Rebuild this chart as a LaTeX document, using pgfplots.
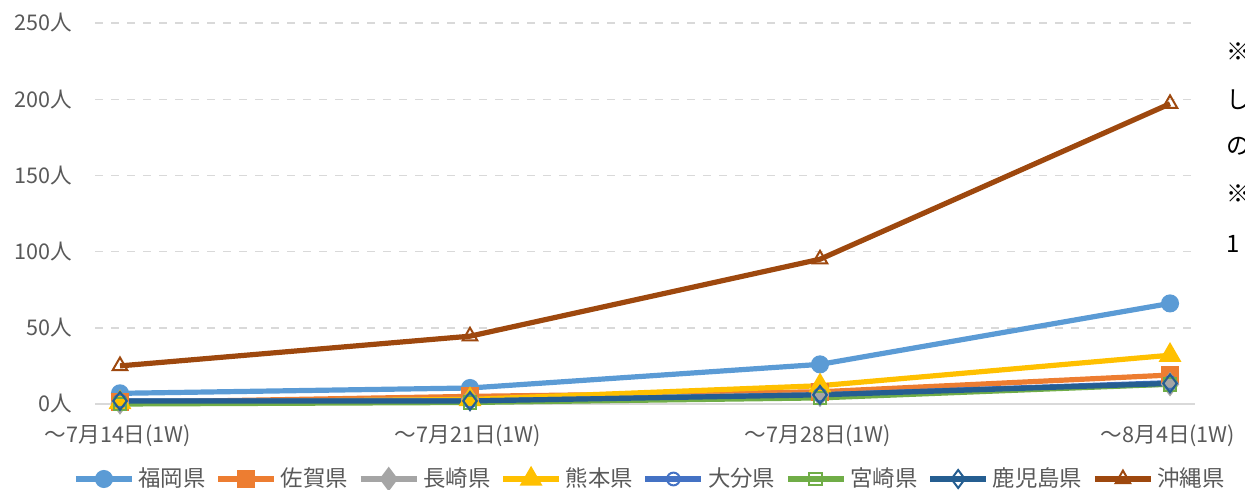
\documentclass[border=0pt]{standalone}
\usepackage{fontspec}
\setmainfont{Noto Sans CJK JP}
\usepackage{pgfplots}
\pgfplotsset{compat=1.18}
\definecolor{cFukuoka}{HTML}{5B9BD5}
\definecolor{cSaga}{HTML}{ED7D31}
\definecolor{cNagasaki}{HTML}{A5A5A5}
\definecolor{cKumamoto}{HTML}{FFC000}
\definecolor{cOita}{HTML}{4472C4}
\definecolor{cMiyazaki}{HTML}{70AD47}
\definecolor{cKagoshima}{HTML}{255E91}
\definecolor{cOkinawa}{HTML}{9E480E}
\definecolor{txt}{HTML}{595959}
\definecolor{gridc}{HTML}{D9D9D9}
\begin{document}
\begin{tikzpicture}
\useasboundingbox (0,0) rectangle (622.5bp,245bp);
\begin{axis}[
  at={(47.5bp,43bp)}, anchor=south west,
  scale only axis, width=550bp, height=190.5bp,
  xmin=-0.0714, xmax=3.0714, ymin=0, ymax=250,
  axis line style={draw=none},
  major tick length=0pt,
  xtick={0,1,2,3},
  xticklabels={〜7月14日(1W),〜7月21日(1W),〜7月28日(1W),〜8月4日(1W)},
  ytick={50,100,150,200,250},
  yticklabel={\pgfmathprintnumber{\tick}人},
  extra y ticks={0},
  extra y tick labels={0人},
  extra y tick style={grid=major, major grid style={solid, gridc, line width=1bp}},
  /pgf/number format/assume math mode=true,
  ymajorgrids,
  major grid style={dashed, dash pattern=on 4bp off 4bp, gridc, line width=0.7bp},
  tick label style={font=\fontsize{10.8bp}{12bp}\selectfont, text=txt},
  yticklabel style={anchor=east, xshift=-8bp},
  xticklabel style={anchor=north, yshift=-7bp, xshift=-1bp},
  clip=false,
  legend columns=8,
  legend style={at={(0.5055,0)}, anchor=center, yshift=-37.5bp, draw=none, fill=none,
    font=\fontsize{11.2bp}{12bp}\selectfont, text=txt,
    /tikz/every even column/.append style={column sep=3bp},
    inner sep=0pt},
  legend image code/.code={\draw[mark repeat=2,mark phase=2,#1] plot coordinates {(0bp,0bp) (14bp,0bp) (28bp,0bp)};},
  every axis plot/.append style={line width=2.6bp, mark size=3.2bp},
]
\addplot[color=cFukuoka, mark=*, mark options={solid, fill=cFukuoka}] coordinates {(0,7) (1,10.5) (2,26) (3,66)};
\addlegendentry{福岡県}
\addplot[color=cSaga, mark=square*, mark options={solid, fill=cSaga}] coordinates {(0,1) (1,5) (2,8) (3,19)};
\addlegendentry{佐賀県}
\addplot[color=cNagasaki, mark=diamond*, mark size=4bp, mark options={solid, fill=cNagasaki}] coordinates {(0,1) (1,3) (2,6) (3,13)};
\addlegendentry{長崎県}
\addplot[color=cKumamoto, mark=triangle*, mark size=4bp, mark options={solid, fill=cKumamoto}] coordinates {(0,1) (1,3) (2,12) (3,32)};
\addlegendentry{熊本県}
\addplot[color=cOita, mark=o, mark options={solid, fill=white, line width=1bp}] coordinates {(0,2) (1,2) (2,6) (3,14)};
\addlegendentry{大分県}
\addplot[color=cMiyazaki, mark=square, mark options={solid, fill=white, line width=1bp}] coordinates {(0,0) (1,1) (2,4) (3,13)};
\addlegendentry{宮崎県}
\addplot[color=cKagoshima, mark=diamond, mark size=4.5bp, mark options={solid, fill=white, line width=1bp}] coordinates {(0,2) (1,2) (2,6) (3,13.5)};
\addlegendentry{鹿児島県}
\addplot[color=cOkinawa, mark=triangle, mark size=4.2bp, mark options={solid, fill=white, line width=1bp}] coordinates {(0,25) (1,44.5) (2,95) (3,197)};
\addlegendentry{沖縄県}
\end{axis}
\begin{scope}[every node/.style={anchor=west, font=\fontsize{12bp}{14bp}\selectfont, inner sep=0pt}]
\node at (613bp,219bp) {※};
\node at (613bp,195bp) {し};
\node at (613bp,172bp) {\textit{の}};
\node at (613bp,148bp) {※};
\node at (613bp,123bp) {1};
\end{scope}
\end{tikzpicture}
\end{document}
